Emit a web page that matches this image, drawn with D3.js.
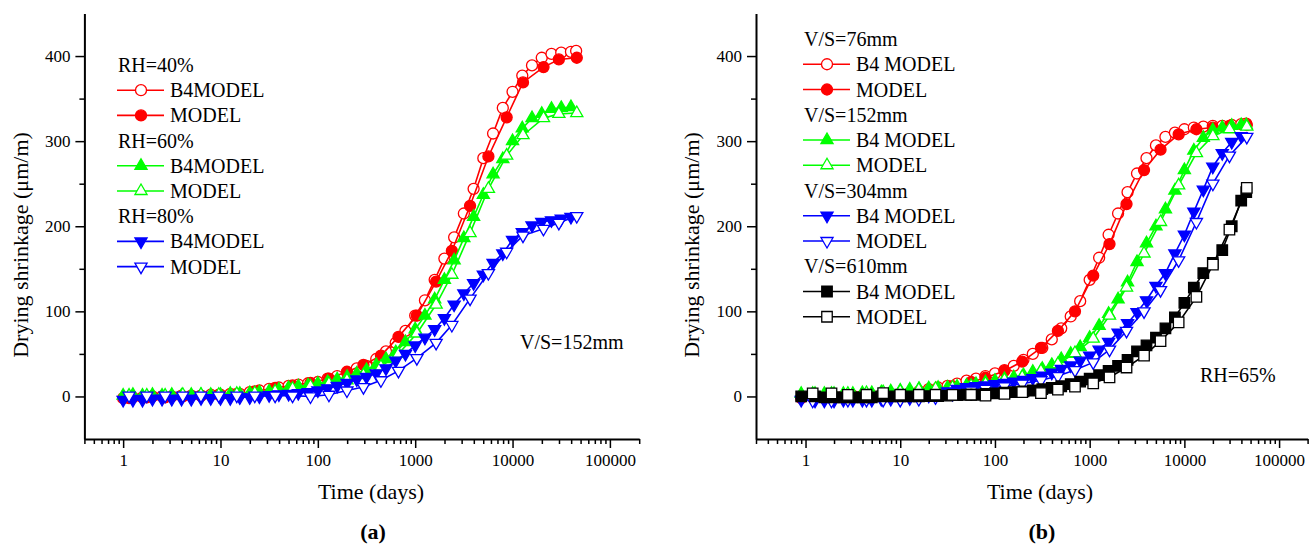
<!DOCTYPE html>
<html>
<head>
<meta charset="utf-8">
<title>drying shrinkage</title>
<script src="https://cdn.jsdelivr.net/npm/d3@7"></script>
<style>
body { margin: 0; background: #fff; }
text { font-family: "Liberation Serif", "Times New Roman", serif; fill: #000; }
</style>
</head>
<body>
<script>

// ---- panel (a): V/S = 152mm, three humidities ----
var tDenseA = [1, 1.26, 1.58, 2, 2.51, 3.16, 3.98, 5.01, 6.31, 7.94,
  10, 12.6, 15.8, 20, 25.1, 31.6, 39.8, 50.1, 63.1, 79.4,
  100, 126, 158, 200, 251, 316, 398, 501, 631, 794,
  1000, 1259, 1585, 1995, 2512, 3162, 3981, 5012, 6310, 7943,
  10000, 12589, 15849, 19953, 25119, 31623, 39811, 45000];
var tSparseA = [1.15, 1.75, 2.7, 4.1, 6.3, 9.6, 14.7, 22.5, 36.4, 55, 84, 130, 199,
  294, 445, 673, 1040, 1640, 2380, 3660, 5650, 8700, 12800, 20800, 29900, 45700];

var rh40B4 = [-2, -1, -1, 0, 0, 0, 1, 1, 1, 2,
  2, 3, 3, 5, 7, 9, 10.5, 12.5, 14, 15.5,
  17, 21, 24, 28, 33, 36, 44, 53, 63, 77,
  95, 113, 137, 162, 187, 215, 244, 280, 309, 339,
  358, 377, 389, 398, 402.5, 404, 405, 406];
var rh40Model = [-2, -1, -1, 0, 1, 2, 3, 6, 10, 13, 16, 21, 29,
  37, 48, 70, 95, 135, 171, 224, 282, 328, 369, 387, 396, 398];
var rh60B4 = [1, 2, 1, 2, 1, 2, 1, 2, 2, 2,
  2, 3, 3, 4, 5, 6, 8, 10, 12, 13,
  15, 17, 20, 23, 27, 31, 37, 44, 52, 64,
  79, 95, 114, 137, 160, 186, 211, 237, 261, 279,
  300, 315, 327, 332, 338, 339, 340];
var rh60Model = [1, 1, 1, 2, 2, 2, 3, 4, 6, 9, 12, 15, 19,
  25, 35, 50, 74, 108, 143, 192, 244, 283, 307, 327, 332, 333];
var rh80B4 = [-4, -4, -4, -3, -3, -3, -3, -3, -2, -2,
  -2, -2, -1, -1, 0, 1.5, 2.5, 3, 4, 5,
  7, 9.5, 12.5, 16, 20, 23, 27, 33, 42, 50,
  60, 69, 79, 92, 108, 121, 133, 143, 157, 168,
  184, 193, 201, 205, 207, 209, 211];
var rh80Model = [1, 1, 1, 1, 1, 1, 1, 1, 1, 1, 0, 2, 7,
  11, 19, 30, 45, 63, 84, 115, 145, 170, 189, 197, 204, 212];

// ---- panel (b): RH = 65%, four V/S ratios ----
var tDenseB = [0.9, 1.26, 1.58, 2, 2.51, 3.16, 3.98, 5.01, 6.31, 7.94,
  10, 12.6, 15.8, 20, 25.1, 31.6, 39.8, 50.1, 63.1, 79.4,
  100, 126, 158, 200, 251, 316, 398, 501, 631, 794,
  1000, 1259, 1585, 1995, 2512, 3162, 3981, 5012, 6310, 7943,
  10000, 12589, 15849, 19953, 25119, 31623, 39811, 45000];
var tSparseB = [1.19, 1.88, 2.8, 4.4, 6.6, 10, 15.7, 23.6, 35.6, 56, 79.5, 126, 194,
  306, 462, 700, 1090, 1620, 2450, 3750, 5600, 8700, 13400, 20000, 29900, 45600];

var vs76B4 = [-2, -1, 0, 0, 0, 1, 1, 1, 2, 2,
  3, 4, 6, 8.5, 10.5, 12.5, 15, 18.5, 21, 24,
  27, 31, 36, 43, 50, 57, 67, 80, 94, 112,
  137, 163, 190, 215, 240, 262, 280, 295, 305, 310,
  314, 316, 317, 318, 318, 319, 320, 320.5];
var vs76Model = [-1, 0, 0, 0, 1, 2, 4, 7, 12, 17, 22, 30, 41,
  57, 77, 100, 142, 179, 226, 266, 290, 308, 314, 316, 318, 319];
var vs152B4 = [3, 3, 3, 3, 3, 3, 4, 4, 5, 6,
  7, 8, 9, 9.5, 10, 10.5, 11.5, 12.7, 14.5, 16.5,
  18.5, 20.5, 22.5, 25, 29, 32.5, 37, 44, 50, 58,
  69, 83, 97, 114, 134, 158, 180, 200, 220, 242,
  266, 289, 304, 313, 316, 318, 319, 319];
var vs152Model = [3, 3, 3, 4, 5, 6, 8, 9, 10.5, 12.5, 15, 19.5, 23,
  30, 38, 51, 68, 95, 128, 168, 205, 248, 286, 306, 314, 317];
var vs304B4 = [-4, -5, -5, -5, -4, -4, -4, -4, -3, -3,
  -3, -2, -1, 1, 3, 6, 9, 11, 12, 13,
  14.5, 16, 17.5, 19.5, 21.5, 24.5, 28, 32.5, 36.5, 42,
  48, 55, 64, 75, 86, 99, 113, 130, 145, 168,
  190, 217, 243, 270, 286, 299, 306];
var vs304Model = [-5, -5, -4, -4, -4, -4, -3, -1, 3, 7, 9, 12, 15,
  19, 24, 31, 40, 55, 77, 100, 125, 160, 205, 250, 283, 305];
var vs610B4 = [0, 0, -1, -1, -1, -1, -1, -1, 0, 0,
  0, 0, 0, 0.5, 0.5, 1, 1.5, 2, 2, 3,
  3.5, 4.5, 5, 6, 7, 8.5, 10, 12, 14.5, 17.5,
  21, 25, 30, 36, 43, 53, 60, 69, 80, 93,
  110, 128, 145, 157, 172, 200, 230, 240];
var vs610Model = [3.6, 3.6, 1.8, 2, 4, 2, 2, 2, 1.8, 2, 1, 3, 5,
  4, 8, 11.5, 15.4, 22.5, 34, 48, 65, 87, 117, 155, 196, 245];

var xMajor = [1, 10, 100, 1000, 10000, 100000];
var yMajor = [0, 100, 200, 300, 400];
var yMinor = [50, 150, 250, 350];

var RED = "#ff0000", GREEN = "#00ff00", BLUE = "#0000ff", BLACK = "#000000";

var svg = d3.select("body").append("svg")
    .attr("width", 1314)
    .attr("height", 545);

var symSize = {circle: 95, tri: 64, down: 64, square: 110};
function symPath(shape) {
  var type = shape == "circle" ? d3.symbolCircle : shape == "square" ? d3.symbolSquare : d3.symbolTriangle;
  return d3.symbol().type(type).size(symSize[shape])();
}
function marker(g, shape, color, open, cx, cy) {
  g.append("path")
    .attr("d", symPath(shape))
    .attr("transform", "translate(" + cx + "," + cy + ")" + (shape == "down" ? " rotate(180)" : ""))
    .attr("fill", open ? "#fff" : color)
    .attr("stroke", color)
    .attr("stroke-width", 1.3);
}

function drawPanel(p) {
  var x = d3.scaleLog().domain(p.xdom).range([p.x0, p.x1]);
  var y = d3.scaleLinear().domain([-50, 450]).range([439, 13.5]);
  var g = svg.append("g");

  // series: line first, then its symbols
  p.series.forEach(function (s) {
    var pts = s.v.map(function (v, i) { return [s.t[i], v]; });
    g.append("path")
      .datum(pts)
      .attr("fill", "none")
      .attr("stroke", s.color)
      .attr("stroke-width", 1.6)
      .attr("d", d3.line().x(function (d) { return x(d[0]); }).y(function (d) { return y(d[1]); }));
    var mg = g.append("g");
    pts.forEach(function (d) { marker(mg, s.shape, s.color, s.open, x(d[0]), y(d[1])); });
  });

  // axes
  var minorX = x.ticks().filter(function (d) { return xMajor.indexOf(d) < 0; });
  var xa = g.append("g").attr("transform", "translate(0,439)")
    .call(d3.axisBottom(x).tickValues(xMajor).tickSize(9).tickSizeOuter(0).tickPadding(6).tickFormat(d3.format("d")));
  g.append("g").attr("transform", "translate(0,439)")
    .call(d3.axisBottom(x).tickValues(minorX).tickSize(5).tickFormat(""))
    .select(".domain").remove();
  var ya = g.append("g").attr("transform", "translate(" + p.x0 + ",0)")
    .call(d3.axisLeft(y).tickValues(yMajor).tickSize(9).tickSizeOuter(0).tickPadding(5));
  g.append("g").attr("transform", "translate(" + p.x0 + ",0)")
    .call(d3.axisLeft(y).tickValues(yMinor).tickSize(5).tickFormat(""))
    .select(".domain").remove();
  g.selectAll(".domain").attr("stroke-width", 2);
  g.selectAll(".tick line").attr("stroke-width", 1.5);
  g.selectAll(".tick text").attr("font-size", 17)
    .attr("font-family", "Liberation Serif, Times New Roman, serif");

  g.append("text")
    .attr("transform", "translate(" + p.ytitleX + ",245) rotate(-90)")
    .attr("text-anchor", "middle").attr("dy", "0.35em")
    .attr("font-size", 22)
    .text("Drying shrinkage (\u03bcm/m)");
  g.append("text")
    .attr("x", p.xtitleX).attr("y", 499)
    .attr("text-anchor", "middle").attr("font-size", 22)
    .text("Time (days)");
  g.append("text")
    .attr("x", p.xtitleX + 2).attr("y", 539)
    .attr("text-anchor", "middle").attr("font-size", 22).attr("font-weight", "bold")
    .text(p.tag);

  g.append("text")
    .attr("x", p.note[0]).attr("y", p.note[1]).attr("dy", "0.35em")
    .attr("font-size", 20)
    .text(p.note[2]);

  // legend
  var lg = g.append("g");
  p.legend.forEach(function (row, i) {
    var ry = p.leg.y0 + i * p.leg.step;
    if (typeof row == "string") {
      lg.append("text").attr("x", p.leg.x).attr("y", ry).attr("dy", "0.35em")
        .attr("font-size", 20).text(row);
    } else {
      var s = row.s;
      lg.append("line").attr("x1", p.leg.x - 1).attr("x2", p.leg.x + 46)
        .attr("y1", ry).attr("y2", ry)
        .attr("stroke", s.color).attr("stroke-width", 1.6);
      marker(lg, s.shape, s.color, s.open, p.leg.x + 23, ry);
      lg.append("text").attr("x", p.leg.x + 52).attr("y", ry).attr("dy", "0.35em")
        .attr("font-size", 20).text(row.label);
    }
  });
}

var a1 = {t: tDenseA, v: rh40B4, color: RED, shape: "circle", open: true};
var a2 = {t: tSparseA, v: rh40Model, color: RED, shape: "circle", open: false};
var a3 = {t: tDenseA, v: rh60B4, color: GREEN, shape: "tri", open: false};
var a4 = {t: tSparseA, v: rh60Model, color: GREEN, shape: "tri", open: true};
var a5 = {t: tDenseA, v: rh80B4, color: BLUE, shape: "down", open: false};
var a6 = {t: tSparseA, v: rh80Model, color: BLUE, shape: "down", open: true};

drawPanel({
  xdom: [0.4, 200000], x0: 84.4, x1: 639.2,
  ytitleX: 20, xtitleX: 371, tag: "(a)",
  note: [520, 342, "V/S=152mm"],
  series: [a1, a2, a3, a4, a5, a6],
  leg: {x: 118, y0: 65, step: 25.2},
  legend: ["RH=40%", {s: a1, label: "B4MODEL"}, {s: a2, label: "MODEL"},
           "RH=60%", {s: a3, label: "B4MODEL"}, {s: a4, label: "MODEL"},
           "RH=80%", {s: a5, label: "B4MODEL"}, {s: a6, label: "MODEL"}]
});

var b1 = {t: tDenseB, v: vs76B4, color: RED, shape: "circle", open: true};
var b2 = {t: tSparseB, v: vs76Model, color: RED, shape: "circle", open: false};
var b3 = {t: tDenseB, v: vs152B4, color: GREEN, shape: "tri", open: false};
var b4 = {t: tSparseB, v: vs152Model, color: GREEN, shape: "tri", open: true};
var b5 = {t: tDenseB, v: vs304B4, color: BLUE, shape: "down", open: false};
var b6 = {t: tSparseB, v: vs304Model, color: BLUE, shape: "down", open: true};
var b7 = {t: tDenseB, v: vs610B4, color: BLACK, shape: "square", open: false};
var b8 = {t: tSparseB, v: vs610Model, color: BLACK, shape: "square", open: true};

drawPanel({
  xdom: [0.3, 200000], x0: 756, x1: 1307.6,
  ytitleX: 691, xtitleX: 1040, tag: "(b)",
  note: [1200, 375, "RH=65%"],
  series: [b1, b2, b3, b4, b5, b6, b7, b8],
  leg: {x: 804, y0: 39, step: 25.25},
  legend: ["V/S=76mm", {s: b1, label: "B4 MODEL"}, {s: b2, label: "MODEL"},
           "V/S=152mm", {s: b3, label: "B4 MODEL"}, {s: b4, label: "MODEL"},
           "V/S=304mm", {s: b5, label: "B4 MODEL"}, {s: b6, label: "MODEL"},
           "V/S=610mm", {s: b7, label: "B4 MODEL"}, {s: b8, label: "MODEL"}]
});

</script>
</body>
</html>
